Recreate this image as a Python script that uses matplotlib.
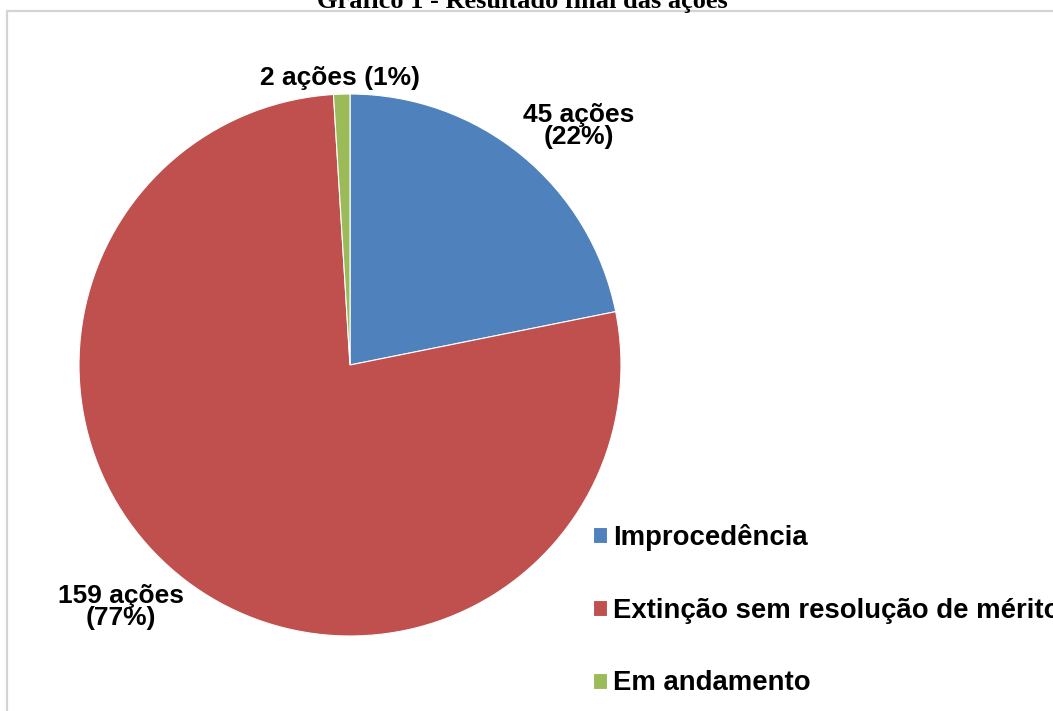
import matplotlib
matplotlib.use("Agg")
import matplotlib.pyplot as plt
import numpy as np
from matplotlib.patches import Rectangle

W, H, DPI = 1053, 711, 100

categories = ["Improcedência", "Extinção sem resolução de mérito", "Em andamento"]
counts = [45, 159, 2]
colors = ["#4F81BD", "#C0504D", "#9BBB59"]

# label anchor (radius multiple, angle in degrees) for each slice
label_pos = [(1.22, 46.2), (1.23, 226.6), (1.06, 92.0)]

total = sum(counts)
fig = plt.figure(figsize=(W / DPI, H / DPI), dpi=DPI)

# light frame around the chart area
fig.patches.append(Rectangle((7 / W, -0.2), 1.2, 1.2 - 11 / H, transform=fig.transFigure,
                             fill=False, edgecolor="#d4d4d4", linewidth=1.6))

fig.text(522 / W, 1 - 8 / H, "Gráfico 1 - Resultado final das ações",
         ha="center", va="baseline", fontsize=19, fontweight="bold",
         family="Liberation Serif")

cx, cy, r = 350, 365, 271
ax = fig.add_axes([(cx - r) / W, (H - cy - r) / H, 2 * r / W, 2 * r / H])
wedges, _ = ax.pie(counts, colors=colors, startangle=90, counterclock=False,
                   radius=1, wedgeprops=dict(edgecolor="white", linewidth=0.8))
ax.set_xlim(-1, 1)
ax.set_ylim(-1, 1)
ax.axis("off")

for n, (dist, ang) in zip(counts, label_pos):
    pct = round(100 * n / total)
    if n < 10:
        txt = f"{n} ações ({pct}%)"
    else:
        txt = f"{n} ações\n({pct}%)"
    a = np.deg2rad(ang)
    ax.text(dist * np.cos(a), dist * np.sin(a), txt, ha="center", va="center",
            fontsize=19, fontweight="bold", family="Liberation Sans",
            linespacing=0.9, clip_on=False)

fig.legend(wedges, categories, loc="upper left",
           bbox_to_anchor=(582 / W, 1 - 513 / H), frameon=False,
           prop=dict(family="Liberation Sans", weight="bold", size=19.8),
           handlelength=0.5, handleheight=0.5, handletextpad=0.22,
           labelspacing=1.7, borderaxespad=0)

fig.savefig("out.png", dpi=DPI, facecolor="white")
